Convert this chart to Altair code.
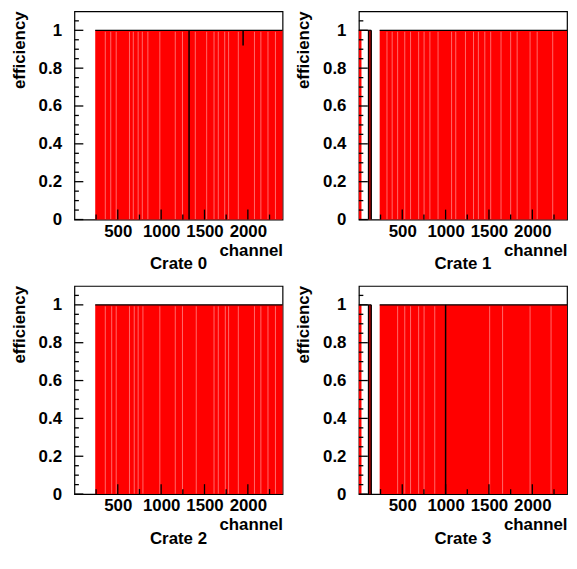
import altair as alt
import pandas as pd

FONT = "Liberation Sans"
FS = 17
W, H = 210, 210
X_MAX = 2400
Y_MAX = 1.1

crate_titles = ["Crate 0", "Crate 1", "Crate 2", "Crate 3"]
y_title = "efficiency"
x_title = "channel"

# filled histogram segments: start channel, end channel, efficiency
seg_a = [[240], [0, 112, 240], [240], [0, 112, 240]]
seg_b = [[2400], [30, 142, 2400], [2400], [30, 142, 2400]]
seg_v = [[1.0], [1.0, 1.0, 1.0], [1.0], [1.0, 1.0, 1.0]]

# black outline along the top of the histogram (start, end, level)
top_a = [[240], [0, 240], [240], [0, 240]]
top_b = [[2400], [142, 2400], [2400], [142, 2400]]
top_v = [[1.0], [1.0, 1.0], [1.0], [1.0, 1.0]]

# black vertical edges of isolated bins (channel, low, high)
edge_c = [[1322, 1945], [112, 142], [], [112, 142, 1000]]
edge_lo = [[0.0, 0.92], [0.0, 0.0], [], [0.0, 0.0, 0.0]]
edge_hi = [[1.0, 1.0], [1.0, 1.0], [], [1.0, 1.0, 1.0]]

# light seams visible inside the red fill (channel)
seams = [
    [356, 419, 482, 635, 679, 735, 783, 847, 985, 1163, 1246, 1394, 1525,
     1610, 1659, 1733, 1778, 1890, 2076, 2150, 2232, 2318],
    [324, 384, 447, 529, 596, 689, 752, 819, 913, 1069, 1117, 1229, 1322,
     1378, 1452, 1520, 1639, 1750, 1825, 1974, 2056, 2235],
    [356, 430, 482, 635, 690, 735, 790, 985, 1163, 1246, 1405, 1610, 1659,
     1740, 1778, 1890, 2076, 2150, 2232, 2318],
    [447, 529, 596, 689, 752, 875, 1508, 1657, 1974, 2216],
]

x_major = [500, 1000, 1500, 2000]
x_minor = [250, 750, 1250, 1750, 2250]
y_major = [0, 0.2, 0.4, 0.6, 0.8, 1.0]
y_minor = [0.05, 0.1, 0.15, 0.25, 0.3, 0.35, 0.45, 0.5, 0.55, 0.65, 0.7,
           0.75, 0.85, 0.9, 0.95, 1.05]

XS = alt.Scale(domain=[0, X_MAX], nice=False, zero=False)
YS = alt.Scale(domain=[0, Y_MAX], nice=False)
XAX = alt.Axis(values=x_major, format="d", ticks=False, domain=False, grid=False,
               labelPadding=4, labelFlush=False, titleAnchor="end",
               titleAlign="right", titlePadding=3)
YAX = alt.Axis(values=y_major, format="~g", ticks=False, domain=False,
               grid=False, labelPadding=13, labelFlush=False)


def xq(field):
    return alt.X(field, type="quantitative", scale=XS, axis=XAX, title=x_title)


def yq(field):
    return alt.Y(field, type="quantitative", scale=YS, axis=YAX, title=None)


def panel(i):
    seg = pd.DataFrame({"a": seg_a[i], "b": seg_b[i], "v": seg_v[i],
                        "z": [0.0] * len(seg_a[i])})
    layers = [alt.Chart(seg).mark_rect(color="#ff0000").encode(
        x=xq("a"), x2="b:Q", y=yq("v"), y2="z:Q")]

    if seams[i]:
        sdf = pd.DataFrame({"a": seams[i]})
        layers.append(alt.Chart(sdf).mark_rule(color="#ff6a6a", strokeWidth=1).encode(
            x=xq("a"),
            y=alt.value(H - 0.5), y2=alt.value(H * (1 - 1.0 / Y_MAX) + 1.5)))

    tdf = pd.DataFrame({"a": top_a[i], "b": top_b[i], "v": top_v[i]})
    layers.append(alt.Chart(tdf).mark_rule(color="black", strokeWidth=1.2).encode(
        x=xq("a"), x2="b:Q", y=yq("v")))

    if edge_c[i]:
        edf = pd.DataFrame({"a": edge_c[i], "v": edge_lo[i], "hi": edge_hi[i]})
        layers.append(alt.Chart(edf).mark_rule(color="black", strokeWidth=1.5).encode(
            x=xq("a"), y=yq("v"), y2="hi:Q"))

    # ticks drawn inside the frame
    layers.append(alt.Chart(pd.DataFrame({"a": x_major})).mark_rule(color="black", strokeWidth=1.3).encode(
        x=xq("a"), y=alt.value(H), y2=alt.value(H - 10)))
    layers.append(alt.Chart(pd.DataFrame({"a": x_minor})).mark_rule(color="black", strokeWidth=1.3).encode(
        x=xq("a"), y=alt.value(H), y2=alt.value(H - 5)))
    layers.append(alt.Chart(pd.DataFrame({"v": y_major})).mark_rule(color="black", strokeWidth=1.3).encode(
        y=yq("v"), x=alt.value(0), x2=alt.value(9)))
    layers.append(alt.Chart(pd.DataFrame({"v": y_minor})).mark_rule(color="black", strokeWidth=1.3).encode(
        y=yq("v"), x=alt.value(0), x2=alt.value(4.5)))

    # rotated y-axis title, right-aligned at the top of the axis
    layers.append(alt.Chart(pd.DataFrame({"t": [y_title]})).mark_text(
        angle=270, align="right", baseline="alphabetic", font=FONT,
        fontSize=FS, fontWeight="bold", color="black").encode(
        text="t:N", x=alt.value(-50), y=alt.value(0)))

    return alt.layer(*layers).properties(
        width=W, height=H,
        title=alt.TitleParams(crate_titles[i], orient="bottom", anchor="middle",
                              offset=-2, font=FONT, fontSize=FS,
                              fontWeight="bold", color="black"),
    )


chart = alt.vconcat(
    alt.hconcat(panel(0), panel(1), spacing=10),
    alt.hconcat(panel(2), panel(3), spacing=10),
    spacing=12,
).properties(
    padding={"left": 2, "top": 0, "right": 0, "bottom": 0},
    background="white",
).configure_view(
    stroke="black", strokeWidth=1.2
).configure_axis(
    labelFont=FONT, labelFontSize=FS, labelFontWeight="bold", labelColor="black",
    titleFont=FONT, titleFontSize=FS, titleFontWeight="bold", titleColor="black",
)

chart.save("out.html", embed_options={"renderer": "svg", "actions": False})
